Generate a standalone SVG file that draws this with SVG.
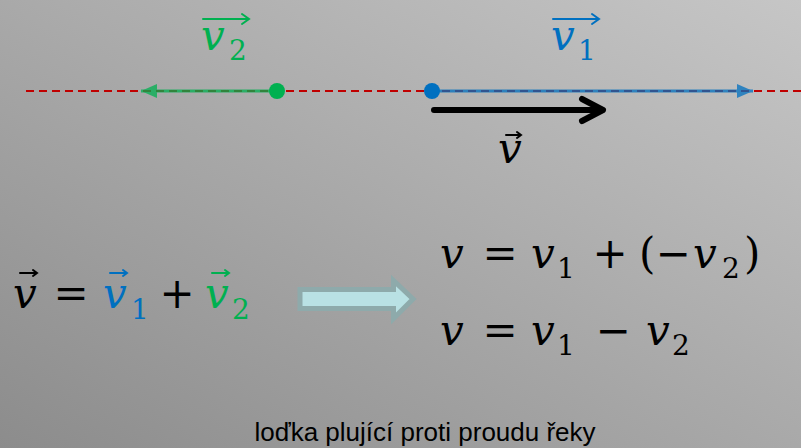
<svg xmlns="http://www.w3.org/2000/svg" width="801" height="448" viewBox="0 0 801 448">
<defs>
<linearGradient id="bg" x1="0" y1="1" x2="1" y2="0">
<stop offset="0" stop-color="#8c8c8c"/>
<stop offset="1" stop-color="#c6c6c6"/>
</linearGradient>
<marker id="hb" markerWidth="16" markerHeight="14" refX="16" refY="7" orient="auto" markerUnits="userSpaceOnUse"><path d="M0,0 L16,7 L0,14 Z" fill="#0070c0"/></marker>
<marker id="hg" markerWidth="16" markerHeight="14" refX="16" refY="7" orient="auto" markerUnits="userSpaceOnUse"><path d="M0,0 L16,7 L0,14 Z" fill="#00b050"/></marker>
</defs>
<style>
.m{font-family:"DejaVu Serif","Liberation Serif",serif;font-style:italic;font-size:42px}
.n{font-family:"DejaVu Serif","Liberation Serif",serif;font-size:42px}
.s{font-family:"DejaVu Serif","Liberation Serif",serif;font-size:28px}
.o{fill:none;stroke-width:2;stroke-linecap:round}
.blue{fill:#0070c0}.green{fill:#00b050}.black{fill:#000}
</style>
<rect width="801" height="448" fill="url(#bg)"/>
<g id="connectors">
<line x1="26" y1="91" x2="801" y2="91" stroke="#c00000" stroke-width="2" stroke-dasharray="8,5"/>
<line x1="277" y1="91" x2="141" y2="91" stroke="#00b050" stroke-width="3" opacity="0.75" marker-end="url(#hg)"/>
<line x1="432" y1="91" x2="753" y2="91" stroke="#0070c0" stroke-width="3" opacity="0.75" marker-end="url(#hb)"/>
<circle cx="277" cy="91" r="8" fill="#00b050"/>
<circle cx="432" cy="91" r="8" fill="#0070c0"/>
<g id="result-arrow" stroke="#000" stroke-width="6" fill="none" stroke-linecap="round" stroke-linejoin="round">
<line x1="434" y1="110" x2="602" y2="110"/>
<polyline points="582,99 603,110 582,121"/>
</g>
</g>
<g id="label-v2">
<text class="m green" x="201" y="50">v</text>
<text class="s green" x="229" y="60">2</text>
<path d="M203,19 H249 M242,14 L249,19 L242,24" class="o" stroke="#00b050"/>
</g>
<g id="label-v1">
<text class="m blue" x="551" y="50">v</text>
<text class="s blue" x="578" y="60">1</text>
<path d="M553,19 H599 M592,14 L599,19 L592,24" class="o" stroke="#0070c0"/>
</g>
<g id="label-v">
<text class="m black" x="498" y="163">v</text>
<path d="M506,135 H521 M517,132 L521,135 L517,138" class="o" stroke="#000" stroke-width="1.8"/>
</g>
<g id="eq-left">
<text class="m black" x="13" y="308">v</text>
<path d="M20,273 H37 M33,270 L37,273 L33,276" class="o" stroke="#000" stroke-width="1.8"/>
<text class="n black" x="71" y="308" text-anchor="middle">=</text>
<text class="m blue" x="103" y="308">v</text>
<path d="M110,273 H127 M123,270 L127,273 L123,276" class="o" stroke="#0070c0" stroke-width="1.8"/>
<text class="s blue" x="131" y="319">1</text>
<text class="n black" x="177" y="308" text-anchor="middle">+</text>
<text class="m green" x="205" y="308">v</text>
<path d="M212,273 H229 M225,270 L229,273 L225,276" class="o" stroke="#00b050" stroke-width="1.8"/>
<text class="s green" x="232" y="319">2</text>
</g>
<g id="big-arrow">
<path d="M300,289.5 H393.5 V280.5 L413,299 L393.5,318.5 V308.5 H300 Z" fill="#b9e1e4" stroke="#8eaaab" stroke-width="5" stroke-linejoin="miter"/>
</g>
<g id="eq-right-1">
<text class="m black" x="440" y="268">v</text>
<text class="n black" x="500" y="268" text-anchor="middle">=</text>
<text class="m black" x="531" y="268">v</text>
<text class="s black" x="557" y="278">1</text>
<text class="n black" x="610" y="268" text-anchor="middle">+</text>
<text class="n black" x="639" y="268">(</text>
<text class="n black" x="673" y="268" text-anchor="middle">−</text>
<text class="m black" x="693" y="268">v</text>
<text class="s black" x="722" y="278">2</text>
<text class="n black" x="744" y="268">)</text>
</g>
<g id="eq-right-2">
<text class="m black" x="440" y="345">v</text>
<text class="n black" x="500" y="345" text-anchor="middle">=</text>
<text class="m black" x="531" y="345">v</text>
<text class="s black" x="557" y="355">1</text>
<text class="n black" x="613" y="345" text-anchor="middle">−</text>
<text class="m black" x="646" y="345">v</text>
<text class="s black" x="672" y="355">2</text>
</g>
<g id="caption">
<text x="425" y="441" text-anchor="middle" font-family="Liberation Sans, Arial, sans-serif" font-size="26" fill="#000">loďka plující proti proudu řeky</text>
</g>
</svg>
